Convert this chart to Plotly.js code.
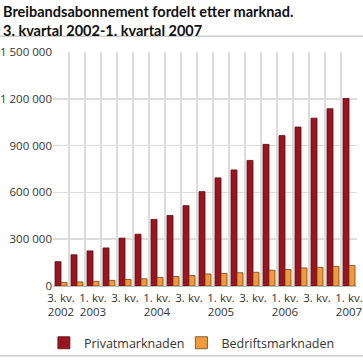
<!DOCTYPE html>
<html>
<head>
<meta charset="utf-8">
<script src="https://cdn.plot.ly/plotly-3.0.1.min.js"></script>
<style>html,body{margin:0;padding:0;background:#fff;}#chart{width:363px;height:364px;}</style>
</head>
<body>
<div id="chart"></div>
<script>
const quarters = ["3. kv. 2002","4. kv. 2002","1. kv. 2003","2. kv. 2003","3. kv. 2003","4. kv. 2003","1. kv. 2004","2. kv. 2004","3. kv. 2004","4. kv. 2004","1. kv. 2005","2. kv. 2005","3. kv. 2005","4. kv. 2005","1. kv. 2006","2. kv. 2006","3. kv. 2006","4. kv. 2006","1. kv. 2007"];
const privat = [156000,200000,225000,244000,307000,332000,427000,452000,515000,605000,693000,744000,805000,908000,964000,1019000,1076000,1136000,1202000];
const bedrift = [23000,26000,30000,36000,42000,46000,55000,61000,67000,77000,81000,85000,88000,101000,106000,116000,120000,126000,132000];
const tickLabels = ["3. kv.<br>2002","1. kv.<br>2003","3. kv.","1. kv.<br>2004","3. kv.","1. kv.<br>2005","3. kv.","1. kv.<br>2006","3. kv.","1. kv.<br>2007"];
const yTicks = [0,300000,600000,900000,1200000,1500000];

const idx = quarters.map((q,i)=>i);
const labelPos = idx.filter(i=>i%2===0);
const bounds = idx.map(i=>i-0.5).concat([quarters.length-0.5]);
const font = "Open Sans, DejaVu Sans, sans-serif";

const traces = [
  {type:"bar", name:"Privatmarknaden", x:idx, y:privat, hovertext:quarters, hoverinfo:"text+y", legend:"legend", showlegend:true,
   marker:{color:"#9b1520", line:{color:"#5a1010", width:0.8}}},
  {type:"bar", name:"Bedriftsmarknaden", x:idx, y:bedrift, hovertext:quarters, hoverinfo:"text+y", legend:"legend2", showlegend:true,
   marker:{color:"#f39a3a", line:{color:"#6b4220", width:0.8}}},
  {type:"scatter", x:[], y:[], xaxis:"x2", showlegend:false, hoverinfo:"skip"}
];

const legendBase = {orientation:"h", xanchor:"left", y:-0.18, yanchor:"top", bgcolor:"rgba(0,0,0,0)",
                    font:{family:"Open Sans", size:12.5, color:"#333"}, itemwidth:30, visible:true};

const layout = {
  width:363, height:364,
  margin:{l:53, r:6, t:52, b:74},
  paper_bgcolor:"#fff", plot_bgcolor:"#fff",
  font:{family:font, size:11, color:"#333"},
  separators:", ",
  showlegend:true,
  annotations:[
    {text:"<b>Breibandsabonnement fordelt etter marknad.<br>3. kvartal 2002-1. kvartal 2007</b>",
     xref:"paper", yref:"paper", x:-52/304, xanchor:"left", y:1+52/238, yanchor:"top", align:"left",
     showarrow:false, font:{family:"Lato, Open Sans, sans-serif", size:14.5, color:"#111"}}
  ],
  barmode:"group", bargap:0.25, bargroupgap:0,
  xaxis:{range:[-0.5, quarters.length-0.5], tickmode:"array", tickvals:bounds, showticklabels:false,
         ticks:"", showgrid:true, gridcolor:"#dcdcdc", gridwidth:1.5, zeroline:false, showline:false, fixedrange:true},
  xaxis2:{overlaying:"x", range:[-0.5, quarters.length-0.5], tickmode:"array", tickvals:labelPos, ticktext:tickLabels,
          side:"bottom", showgrid:false, zeroline:false, showline:false, ticks:"", ticklabelstandoff:3,
          tickfont:{size:11.5, color:"#333"}},
  yaxis:{range:[0,1500000], tickmode:"array", tickvals:yTicks, tickformat:",d", showgrid:true, gridcolor:"#dcdcdc",
         gridwidth:1.5, zeroline:true, zerolinecolor:"#bbb", zerolinewidth:1, ticks:"", ticklen:0, tickfont:{size:11.5, color:"#333"}},
  legend:Object.assign({}, legendBase, {x:-0.03}),
  legend2:Object.assign({}, legendBase, {x:0.4224}),
  shapes:[
    {type:"line", xref:"paper", yref:"paper", x0:-0.18, x1:1.03, y0:1.0+16/238, y1:1.0+16/238, line:{color:"#ccc", width:1.5}},
    {type:"line", xref:"paper", yref:"paper", x0:-0.18, x1:1.03, y0:-71/238, y1:-71/238, line:{color:"#ccc", width:1.5}}
  ]
};

Plotly.newPlot("chart", traces, layout, {displayModeBar:false, staticPlot:true});
</script>
</body>
</html>
